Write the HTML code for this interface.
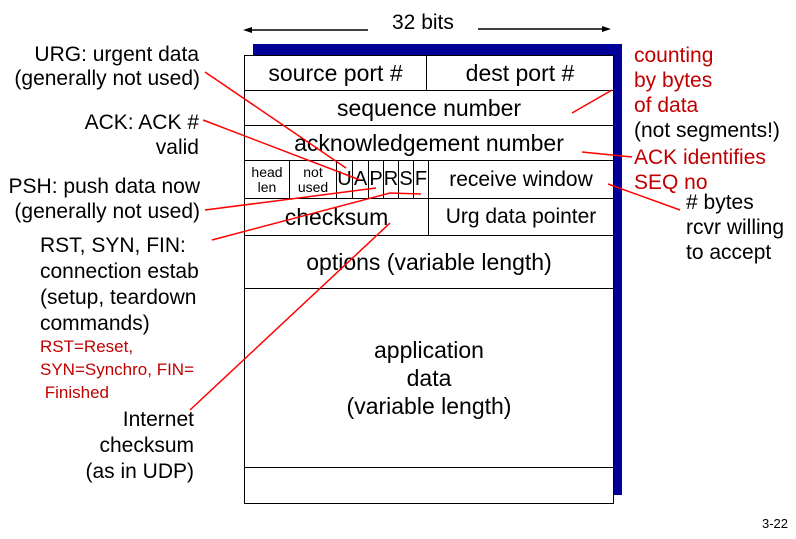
<!DOCTYPE html>
<html><head><style>
body{margin:0;width:796px;height:539px;background:#fff;position:relative;font-family:"Liberation Sans",Arial,sans-serif;overflow:hidden}
.t{position:absolute;font-size:21px;color:#000;line-height:24px;white-space:nowrap}
.ra{text-align:right}
.r{color:#c00000}
.c{position:absolute;border:1.5px solid #000;box-sizing:border-box;display:flex;align-items:center;justify-content:center;text-align:center;background:#fff;font-size:23px;white-space:nowrap}
.s{font-size:14px;line-height:15px}
.f{font-size:20px}
</style></head><body>
<div style="position:absolute;left:253px;top:44px;width:369px;height:451px;background:#000099"></div>
<div style="position:absolute;left:244px;top:55px;width:370px;height:449px;background:#fff;border:1.5px solid #000;box-sizing:border-box"></div>
<div class="c" style="left:244px;top:55px;width:183px;height:36px">source port #</div>
<div class="c" style="left:426px;top:55px;width:188px;height:36px">dest port #</div>
<div class="c" style="left:244px;top:90px;width:370px;height:36px">sequence number</div>
<div class="c" style="left:244px;top:125px;width:370px;height:36px">acknowledgement number</div>
<div class="c s" style="left:244px;top:160px;width:46px;height:39px">head<br>len</div>
<div class="c s" style="left:289px;top:160px;width:48px;height:39px">not<br>used</div>
<div class="c f" style="left:336px;top:160px;width:17px;height:39px">U</div>
<div class="c f" style="left:352px;top:160px;width:17px;height:39px">A</div>
<div class="c f" style="left:368px;top:160px;width:16px;height:39px">P</div>
<div class="c f" style="left:383px;top:160px;width:16px;height:39px">R</div>
<div class="c f" style="left:398px;top:160px;width:16px;height:39px">S</div>
<div class="c f" style="left:413px;top:160px;width:16px;height:39px">F</div>
<div class="c" style="left:428px;top:160px;width:186px;height:39px;font-size:21px">receive window</div>
<div class="c" style="left:244px;top:198px;width:185px;height:38px">checksum</div>
<div class="c" style="left:428px;top:198px;width:186px;height:38px;font-size:21px">Urg data pointer</div>
<div class="c" style="left:244px;top:235px;width:370px;height:54px">options (variable length)</div>
<div class="c" style="left:244px;top:288px;width:370px;height:180px;line-height:28px">application<br>data<br>(variable length)</div>
<div class="t" style="left:392px;top:11px;font-size:21px">32 bits</div>
<svg style="position:absolute;left:0;top:0" width="796" height="539">
<g stroke="#000" stroke-width="1.5"><line x1="246" y1="30" x2="368" y2="30"/><line x1="478" y1="29" x2="608" y2="29"/></g>
<polygon points="243,30 252,27 252,33" fill="#000"/><polygon points="611,29 602,26 602,32" fill="#000"/>
<g stroke="#ff0000" stroke-width="1.5" fill="none">
<line x1="205" y1="72" x2="346" y2="168"/>
<line x1="203" y1="120" x2="360" y2="180"/>
<line x1="205" y1="210" x2="376" y2="188"/>
<polyline points="212,240 390,193 421,194"/>
<line x1="190" y1="410" x2="390" y2="223"/>
<line x1="612" y1="90" x2="572" y2="113"/>
<line x1="582" y1="152" x2="632" y2="157"/>
<line x1="608" y1="184" x2="680" y2="210"/>
</g></svg>
<div class="t ra" style="right:597px;top:43px">URG: urgent data</div>
<div class="t ra" style="right:596px;top:67px">(generally not used)</div>
<div class="t ra" style="right:597px;top:111px">ACK: ACK #</div>
<div class="t ra" style="right:597px;top:136px">valid</div>
<div class="t ra" style="right:596px;top:175px">PSH: push data now</div>
<div class="t ra" style="right:596px;top:200px">(generally not used)</div>
<div class="t" style="left:40px;top:233px;line-height:26px">RST, SYN, FIN:<br>connection estab<br>(setup, teardown<br>commands)</div>
<div class="t r" style="left:40px;top:335px;font-size:17px;line-height:23px">RST=Reset,<br>SYN=Synchro, FIN=<br>&nbsp;Finished</div>
<div class="t ra" style="right:602px;top:407px;line-height:26px">Internet<br>checksum<br>(as in UDP)</div>
<div class="t r" style="left:634px;top:43px;line-height:25px">counting<br>by bytes<br>of data</div>
<div class="t" style="left:634px;top:119px">(not segments!)</div>
<div class="t r" style="left:634px;top:145px;line-height:25px">ACK identifies<br>SEQ no</div>
<div class="t" style="left:686px;top:190px;line-height:25px"># bytes<br>rcvr willing<br>to accept</div>
<div class="t" style="left:762px;top:512px;font-size:13px">3-22</div>
</body></html>
